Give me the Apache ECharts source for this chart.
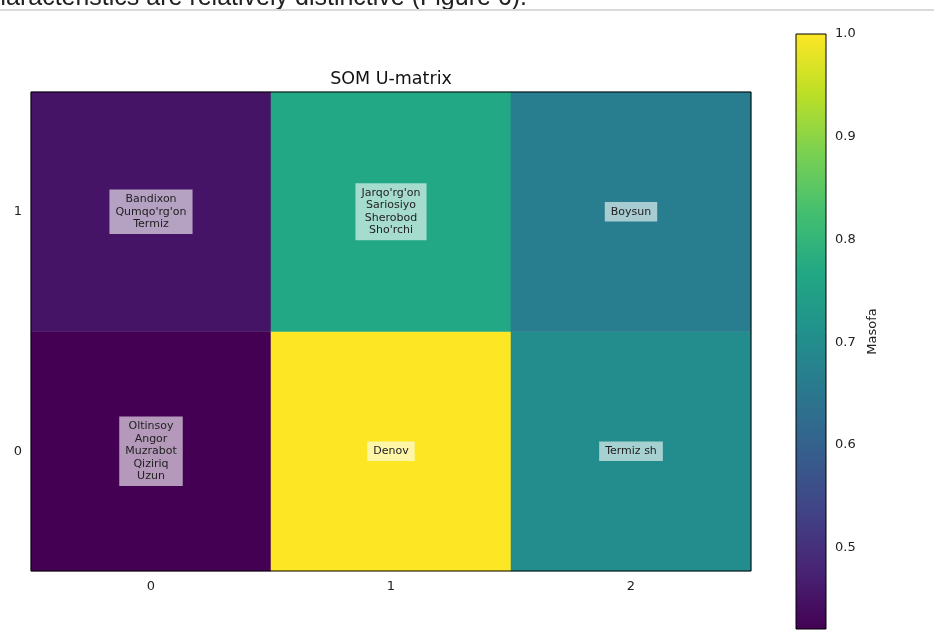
<!DOCTYPE html>
<html>
<head>
<meta charset="utf-8">
<script src="https://cdn.jsdelivr.net/npm/echarts@6/dist/echarts.min.js"></script>
<style>
  html, body { margin: 0; padding: 0; background: #fff; }
  #main { width: 934px; height: 637px; }
</style>
</head>
<body>
<div id="main"></div>
<script>
// grid columns / rows of the SOM
const xCats = ['0', '1', '2'];
const yCats = ['0', '1'];

// u-matrix distance per cell: [x, y, value]
const cellValues = [
    [0, 0, 0.421],
    [0, 1, 0.452],
    [1, 0, 1.0],
    [1, 1, 0.768],
    [2, 0, 0.700],
    [2, 1, 0.665]
];

// regions mapped to each cell (same order as cellValues)
const cellNames = [
    ['Oltinsoy', 'Angor', 'Muzrabot', 'Qiziriq', 'Uzun'],
    ['Bandixon', "Qumqo'rg'on", 'Termiz'],
    ['Denov'],
    ["Jarqo'rg'on", 'Sariosiyo', 'Sherobod', "Sho'rchi"],
    ['Termiz sh'],
    ['Boysun']
];

const colorbarTicks = [0.5, 0.6, 0.7, 0.8, 0.9, 1.0];
const vMin = 0.421;
const vMax = 1.0;

// viridis colour map, 0 -> 1
const viridis = ['#440154', '#482475', '#414487', '#355f8d', '#2a788e',
    '#21918c', '#22a884', '#44bf70', '#7ad151', '#bddf26', '#fde725'];

const font = 'DejaVu Sans';
const chart = echarts.init(document.getElementById('main'), null, { renderer: 'canvas' });

const heatData = cellValues.map((c, i) => ({ value: c, names: cellNames[i] }));

const option = {
    animation: false,
    backgroundColor: '#fff',
    title: {
        text: 'SOM U-matrix',
        left: 386,
        top: 65,
        textAlign: 'center',
        textStyle: { fontFamily: font, fontSize: 17.5, fontWeight: 'normal', color: '#111' }
    },
    graphic: [
        {
            type: 'text',
            right: 407,
            top: -14,
            style: {
                text: 'characteristics are relatively distinctive (Figure 6).',
                font: '25px "Liberation Sans"',
                fill: '#222'
            }
        },
        {
            type: 'rect',
            left: 0,
            top: 9,
            shape: { width: 934, height: 2 },
            style: { fill: '#d9d9d9' }
        }
    ],
    grid: [
        { left: 31, right: 183, top: 92, bottom: 66, show: true, z: 5,
          borderColor: '#000', borderWidth: 1, backgroundColor: 'transparent' },
        { left: 796, width: 30, top: 34, height: 595 }
    ],
    xAxis: [
        {
            type: 'category', data: xCats, gridIndex: 0,
            axisLine: { show: false },
            axisTick: { alignWithLabel: true, length: 5, lineStyle: { color: '#000' } },
            axisLabel: { fontFamily: font, fontSize: 13, color: '#222', margin: 9 },
            splitLine: { show: false }
        },
        { type: 'value', gridIndex: 1, min: 0, max: 1, show: false }
    ],
    yAxis: [
        {
            type: 'category', data: yCats, gridIndex: 0,
            axisLine: { show: false },
            axisTick: { alignWithLabel: true, length: 5, lineStyle: { color: '#000' } },
            axisLabel: { fontFamily: font, fontSize: 13, color: '#222', margin: 9 },
            splitLine: { show: false }
        },
        {
            type: 'value', gridIndex: 1, min: vMin, max: vMax, position: 'right',
            axisLine: { show: false },
            axisTick: { show: true, length: 5, customValues: colorbarTicks, lineStyle: { color: '#000' } },
            axisLabel: {
                customValues: colorbarTicks,
                formatter: v => v.toFixed(1),
                fontFamily: font, fontSize: 13, color: '#222', margin: 9
            },
            splitLine: { show: false },
            name: 'Masofa',
            nameLocation: 'middle',
            nameRotate: 90,
            nameGap: 40,
            nameTextStyle: { fontFamily: font, fontSize: 13, color: '#222' }
        }
    ],
    visualMap: {
        show: false,
        seriesIndex: 0,
        min: vMin,
        max: vMax,
        dimension: 2,
        inRange: { color: viridis }
    },
    series: [
        {
            type: 'heatmap',
            xAxisIndex: 0,
            yAxisIndex: 0,
            data: heatData,
            itemStyle: { borderWidth: 0 },
            label: {
                show: true,
                formatter: p => p.data.names.join('\n'),
                fontFamily: font,
                fontSize: 11,
                lineHeight: 12.5,
                color: '#222',
                align: 'center',
                backgroundColor: 'rgba(255,255,255,0.6)',
                padding: [4, 6, 3, 6]
            },
            emphasis: { disabled: true }
        },
        {
            type: 'custom',
            xAxisIndex: 1,
            yAxisIndex: 1,
            data: [[0, vMin, vMax]],
            renderItem: function (params, api) {
                const top = api.coord([0, api.value(2)]);
                const bot = api.coord([1, api.value(1)]);
                const stops = viridis.map((c, i) => ({ offset: 1 - i / (viridis.length - 1), color: c }));
                return {
                    type: 'rect',
                    shape: { x: top[0], y: top[1], width: bot[0] - top[0], height: bot[1] - top[1] },
                    style: {
                        fill: new echarts.graphic.LinearGradient(0, 0, 0, 1, stops),
                        stroke: '#000',
                        lineWidth: 1
                    }
                };
            },
            silent: true
        }
    ]
};

chart.setOption(option);
</script>
</body>
</html>
